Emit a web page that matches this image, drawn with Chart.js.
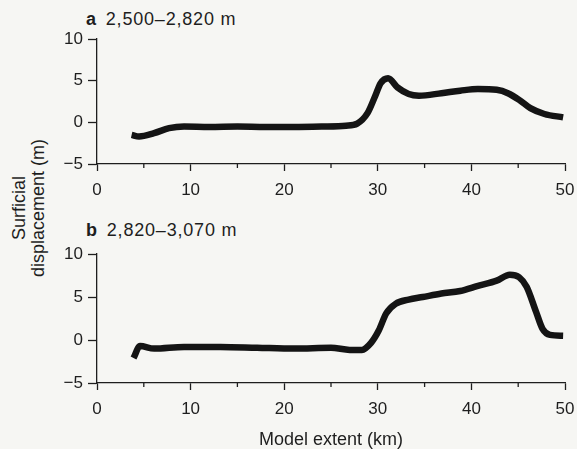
<!DOCTYPE html>
<html>
<head>
<meta charset="utf-8">
<script src="https://cdn.jsdelivr.net/npm/chart.js@4"></script>
<style>
  body { margin: 0; background: #f6f6f3; }
  #wrap { position: relative; width: 577px; height: 449px; overflow: hidden; font-family: "Liberation Sans", Arial, sans-serif; color: #1e1e1e; }
  .cv { position: absolute; left: 0; width: 577px; }
  .panel { position: absolute; font-size: 18px; line-height: 18px; letter-spacing: 0.8px; white-space: nowrap; }
  .panel b { margin-right: 9px; }
  #ytitle { position: absolute; left: -71px; top: 189px; width: 200px; height: 38px; font-size: 18px; line-height: 19px; text-align: center; transform: rotate(-90deg); transform-origin: center; }
</style>
</head>
<body>
<div id="wrap">
  <div class="panel" style="left:86px; top:10px;"><b>a</b>2,500–2,820 m</div>
  <div class="panel" style="left:86px; top:221px;"><b>b</b>2,820–3,070 m</div>
  <div id="ytitle">Surficial<br>displacement (m)</div>
  <div class="cv" style="top:0; height:214px;"><canvas id="chartA"></canvas></div>
  <div class="cv" style="top:214px; height:235px;"><canvas id="chartB"></canvas></div>
</div>
<script>
// panel a, 2,500-2,820 m
const kmA = [3.7, 4.5, 6.1, 7.7, 9.3, 12, 15, 18, 21, 24, 26.6, 27.8, 28.9, 29.7, 30.3, 31.1, 32.1, 33.3, 34.4, 36.8, 38.8, 40.7, 42.7, 43.9, 45.1, 46.3, 47.8, 49.8];
const dispA = [-1.5, -1.7, -1.3, -0.7, -0.5, -0.55, -0.5, -0.55, -0.55, -0.5, -0.4, -0.15, 1.1, 3.1, 4.7, 5.3, 4.2, 3.4, 3.2, 3.5, 3.8, 4.0, 3.9, 3.5, 2.7, 1.7, 1.0, 0.6];

// panel b, 2,820-3,070 m
const kmB = [3.9, 4.6, 6.1, 9.3, 13.2, 17.1, 21.1, 25, 27, 28.3, 29.3, 30.1, 30.9, 31.9, 33.3, 34.8, 36.8, 38.8, 40.7, 42.7, 44.1, 45.1, 45.9, 46.9, 47.6, 48.4, 49.8];
const dispB = [-2.1, -0.7, -1.0, -0.8, -0.8, -0.9, -1.0, -0.9, -1.15, -1.15, -0.3, 1.1, 3.1, 4.2, 4.7, 5.0, 5.4, 5.7, 6.3, 6.9, 7.6, 7.3, 6.2, 3.3, 1.3, 0.6, 0.5];

const xTicks = [0, 10, 20, 30, 40, 50];
const yTicks = [-5, 0, 5, 10];
const minorX = [5, 15, 25, 35, 45];

const ink = "#1e1e1e";

// short minor ticks on the x axis
const minorTicks = {
  id: "minorTicks",
  afterDraw(chart) {
    const x = chart.scales.x;
    const ctx = chart.ctx;
    ctx.save();
    ctx.strokeStyle = ink;
    ctx.lineWidth = 1.3;
    minorX.forEach((v) => {
      const px = x.getPixelForValue(v);
      ctx.beginPath();
      ctx.moveTo(px, x.top);
      ctx.lineTo(px, x.top + 4);
      ctx.stroke();
    });
    ctx.restore();
  },
};

function makeChart(id, km, disp, padTop, xHeight, showTitle) {
  const points = km.map((k, i) => ({ x: k, y: disp[i] }));
  return new Chart(document.getElementById(id), {
    type: "line",
    data: {
      datasets: [
        {
          data: points,
          borderColor: "#141414",
          borderWidth: 6.5,
          borderJoinStyle: "round",
          borderCapStyle: "butt",
          cubicInterpolationMode: "monotone",
          pointRadius: 0,
          fill: false,
        },
      ],
    },
    options: {
      responsive: true,
      maintainAspectRatio: false,
      animation: false,
      layout: { padding: { left: 0, right: 12, top: padTop, bottom: 0 } },
      plugins: { legend: { display: false }, tooltip: { enabled: false } },
      scales: {
        x: {
          type: "linear",
          min: 0,
          max: 50,
          afterBuildTicks: (s) => { s.ticks = xTicks.map((v) => ({ value: v })); },
          afterFit: (s) => { s.height = xHeight; s.paddingLeft = 0; s.paddingRight = 0; },
          border: { color: ink, width: 1.3 },
          grid: { drawOnChartArea: false, tickLength: 7, tickColor: ink, tickWidth: 1.3 },
          ticks: { color: ink, padding: 9, maxRotation: 0, font: { family: "Liberation Sans", size: 17 } },
          title: {
            display: showTitle,
            text: "Model extent (km)",
            color: ink,
            padding: { top: 0, bottom: 0 },
            font: { family: "Liberation Sans", size: 18, lineHeight: 1 },
          },
        },
        y: {
          min: -5,
          max: 10,
          afterBuildTicks: (s) => { s.ticks = yTicks.map((v) => ({ value: v })); },
          afterFit: (s) => { s.width = 97; s.paddingTop = 0; s.paddingBottom = 0; },
          border: { color: ink, width: 1.3 },
          grid: { drawOnChartArea: false, tickLength: 9, tickColor: ink, tickWidth: 1.3 },
          ticks: {
            color: ink,
            padding: 5,
            font: { family: "Liberation Sans", size: 17 },
            callback: (v) => (v < 0 ? "\u2212" + Math.abs(v) : v),
          },
        },
      },
    },
    plugins: [minorTicks],
  });
}

makeChart("chartA", kmA, dispA, 39, 50, false);
makeChart("chartB", kmB, dispB, 40, 66, true);
</script>
</body>
</html>
